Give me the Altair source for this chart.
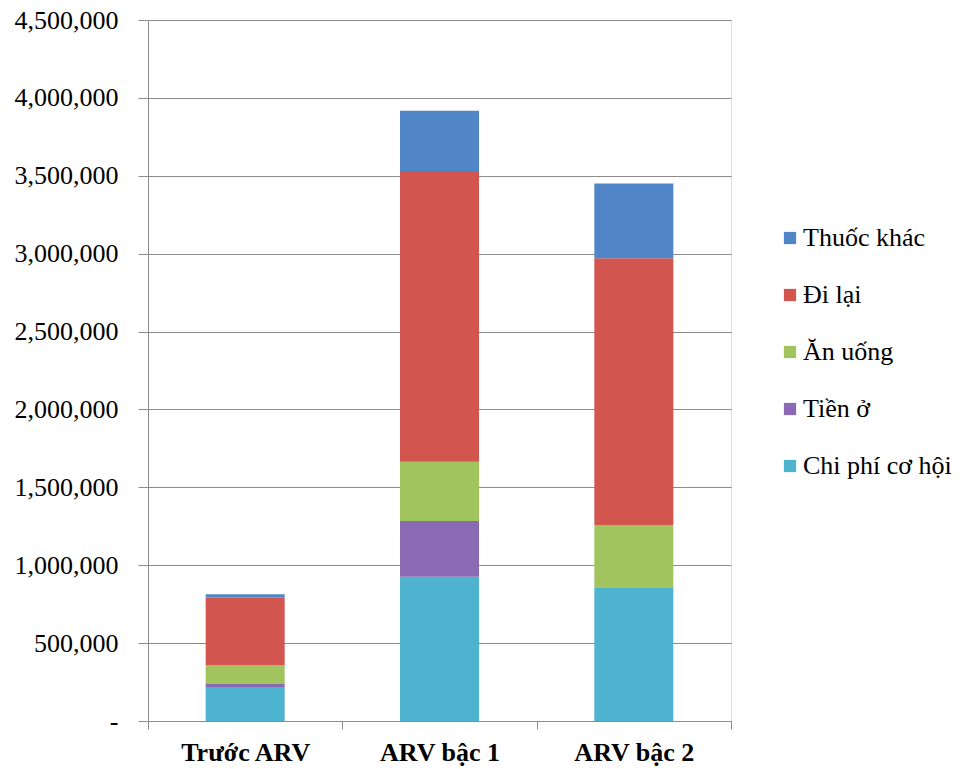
import altair as alt
import pandas as pd

categories = ["Trước ARV", "ARV bậc 1", "ARV bậc 2"]
series_stack = ["Chi phí cơ hội", "Tiền ở", "Ăn uống", "Đi lại", "Thuốc khác"]
chi_phi_co_hoi = [214000, 926000, 858000]
tien_o = [23000, 358000, 0]
an_uong = [122000, 380000, 400000]
di_lai = [434000, 1866000, 1712000]
thuoc_khac = [20000, 387000, 481000]
series_colors = ["#4DB3CF", "#8A6AB3", "#A2C45E", "#D2554F", "#5086C7"]
y_ticks = [0, 500000, 1000000, 1500000, 2000000, 2500000, 3000000, 3500000, 4000000, 4500000]

values_by_series = [chi_phi_co_hoi, tien_o, an_uong, di_lai, thuoc_khac]
rows = []
for si, (name, vals) in enumerate(zip(series_stack, values_by_series)):
    for cat, v in zip(categories, vals):
        rows.append({"cat": cat, "series": name, "value": v, "idx": si})
df = pd.DataFrame(rows)

legend_order = list(reversed(series_stack))
legend_colors = list(reversed(series_colors))

FONT = "Liberation Serif, Times New Roman, serif"
GRID = "#8C8C8C"

chart = alt.Chart(df).mark_bar(size=79).encode(
    x=alt.X(
        "cat:N",
        sort=categories,
        scale=alt.Scale(paddingInner=0, paddingOuter=0),
        axis=alt.Axis(
            title=None, labelAngle=0, tickBand="extent", grid=False,
            domainColor=GRID, tickColor=GRID, tickSize=8, ticks=True,
            labelFont=FONT, labelFontSize=26, labelFontWeight="bold",
            labelColor="black", labelPadding=10,
        ),
    ),
    y=alt.Y(
        "value:Q",
        stack="zero",
        scale=alt.Scale(domain=[0, 4500000], nice=False),
        axis=alt.Axis(
            title=None, values=y_ticks, grid=True, gridColor=GRID,
            domainColor=GRID, tickColor=GRID, tickSize=10, ticks=True,
            labelFont=FONT, labelFontSize=26, labelColor="black",
            labelPadding=20, labelOverlap=False,
            labelExpr="datum.value == 0 ? '-\u2002' : format(datum.value, ',')",
        ),
    ),
    color=alt.Color(
        "series:N",
        scale=alt.Scale(domain=legend_order, range=legend_colors),
        legend=alt.Legend(
            title=None, orient="none", legendX=629, legendY=205,
            labelFont=FONT, labelFontSize=26, labelColor="black",
            symbolType="square", symbolSize=150, symbolStrokeWidth=0,
            rowPadding=31, labelOffset=0,
        ),
    ),
    order=alt.Order("idx:Q", sort="ascending"),
).properties(
    width=583,
    height=701,
    autosize=alt.AutoSizeParams(type="none"),
    padding={"left": 148, "top": 20, "right": 229, "bottom": 48},
).configure_view(stroke=None).configure(background="white")

chart.save("out.html", embed_options={"renderer": "svg", "actions": False})
